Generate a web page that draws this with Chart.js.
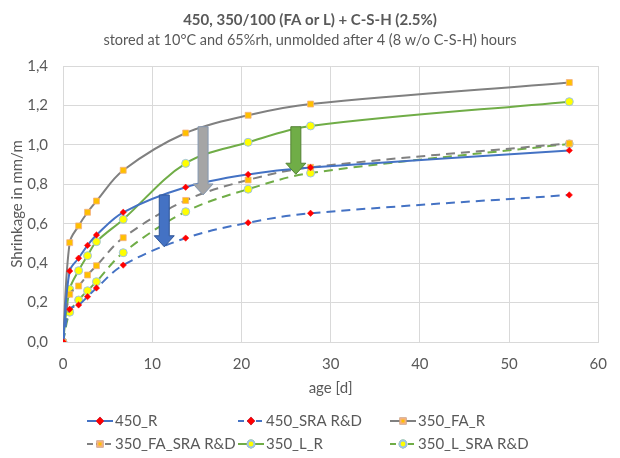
<!DOCTYPE html>
<html>
<head>
<meta charset="utf-8">
<script src="https://cdn.jsdelivr.net/npm/chart.js@4/dist/chart.umd.min.js"></script>
<style>
  html, body { margin: 0; padding: 0; background: #fff; }
  #wrap { width: 620px; height: 458px; }
</style>
</head>
<body>
<div id="wrap"><canvas id="chart" width="620" height="458"></canvas></div>
<script>
// ─────────────────────────────────────────────────────
// Data
// ─────────────────────────────────────────────────────

const TITLE    = "450, 350/100 (FA or L) + C-S-H (2.5%)";
const SUBTITLE = "stored at 10°C and 65%rh, unmolded after 4 (8 w/o C-S-H) hours";
const X_TITLE  = "age [d]";
const Y_TITLE  = "Shrinkage in mm/m";

const ages = [0, 0.75, 1.75, 2.75, 3.75, 6.75, 13.75, 20.75, 27.75, 56.75];

const s450_R      = [0, 0.360, 0.425, 0.490, 0.543, 0.658, 0.785, 0.850, 0.885, 0.972];
const s450_SRA    = [0, 0.166, 0.188, 0.230, 0.274, 0.390, 0.527, 0.605, 0.653, 0.746];
const s350_FA_R   = [0, 0.504, 0.589, 0.658, 0.715, 0.871, 1.060, 1.150, 1.207, 1.316];
const s350_FA_SRA = [0, 0.242, 0.284, 0.340, 0.387, 0.529, 0.718, 0.822, 0.886, 1.008];
const s350_L_R    = [0, 0.267, 0.362, 0.438, 0.509, 0.622, 0.906, 1.013, 1.096, 1.219];
const s350_L_SRA  = [0, 0.151, 0.213, 0.260, 0.306, 0.453, 0.661, 0.775, 0.857, 1.005];

const seriesNames = ["450_R", "450_SRA R&D", "350_FA_R", "350_FA_SRA R&D", "350_L_R", "350_L_SRA R&D"];

const xTicks = [0, 10, 20, 30, 40, 50, 60];
const yTicks = [0, 0.2, 0.4, 0.6, 0.8, 1.0, 1.2, 1.4];

// annotation arrows (age, top value, tip value)
const arrowAge  = [15.7, 11.35, 26.1];
const arrowTop  = [1.092, 0.746, 1.092];
const arrowTip  = [0.746, 0.483, 0.851];

// ─────────────────────────────────────────────────────
// Styles
// ─────────────────────────────────────────────────────

const FONT = "Lato, 'Open Sans', sans-serif";
const TEXT = "#595959";
const GRID = "#d9d9d9";

const BLUE  = "#4472c4";
const GRAY  = "#808080";
const GREEN = "#70ad47";

const arrowFill   = ["#a5a5a5", "#4472c4", "#70ad47"];
const arrowStroke = ["#8497b0", "#2f5597", "#548235"];

const DASH = [9, 6];

function pts(ys) {
  return ages.map((x, i) => ({ x, y: ys[i] }));
}

function series(label, ys, color, dashed, marker) {
  const m = {
    diamond: { pointStyle: "rectRot", pointRadius: 3.2, pointBackgroundColor: "#ff0000", pointBorderColor: "#ff0000", pointBorderWidth: 0.5 },
    square:  { pointStyle: "rect",    pointRadius: 4.2, pointBackgroundColor: "#ffc000", pointBorderColor: "#f4b183", pointBorderWidth: 0.8 },
    circle:  { pointStyle: "circle",  pointRadius: 4,   pointBackgroundColor: "#ffff00", pointBorderColor: "#9dc3e6", pointBorderWidth: 1 },
  }[marker];
  return {
    label,
    data: pts(ys),
    showLine: true,
    borderColor: color,
    backgroundColor: color,
    borderWidth: 2,
    borderDash: dashed ? DASH : [],
    tension: 0.35,
    ...m,
    pointHoverRadius: m.pointRadius,
  };
}

const datasets = [
  series(seriesNames[0], s450_R,      BLUE,  false, "diamond"),
  series(seriesNames[1], s450_SRA,    BLUE,  true,  "diamond"),
  series(seriesNames[2], s350_FA_R,   GRAY,  false, "square"),
  series(seriesNames[3], s350_FA_SRA, GRAY,  true,  "square"),
  series(seriesNames[4], s350_L_R,    GREEN, false, "circle"),
  series(seriesNames[5], s350_L_SRA,  GREEN, true,  "circle"),
];

// ─────────────────────────────────────────────────────
// Plugins: titles, arrows, legend
// ─────────────────────────────────────────────────────

const textPlugin = {
  id: "texts",
  afterDraw(chart) {
    const ctx = chart.ctx;
    const a = chart.chartArea;
    ctx.save();
    ctx.fillStyle = TEXT;
    ctx.textAlign = "center";
    ctx.textBaseline = "middle";
    ctx.font = "bold 15px " + FONT;
    ctx.fillText(TITLE, chart.width / 2, 20);
    ctx.font = "14.5px " + FONT;
    ctx.fillText(SUBTITLE, chart.width / 2, 40);

    ctx.font = "15px " + FONT;
    ctx.fillText(X_TITLE, (a.left + a.right) / 2, 388);

    ctx.translate(17, (a.top + a.bottom) / 2);
    ctx.rotate(-Math.PI / 2);
    ctx.fillText(Y_TITLE, 0, 0);
    ctx.restore();
  },
};

const arrowPlugin = {
  id: "arrows",
  afterDatasetsDraw(chart) {
    const ctx = chart.ctx;
    const xs = chart.scales.x, ys = chart.scales.y;
    ctx.save();
    arrowAge.forEach((age, i) => {
      const cx = xs.getPixelForValue(age);
      const top = ys.getPixelForValue(arrowTop[i]);
      const tip = ys.getPixelForValue(arrowTip[i]);
      const shaft = 5, head = 10, headLen = 11;
      ctx.beginPath();
      ctx.moveTo(cx - shaft, top);
      ctx.lineTo(cx + shaft, top);
      ctx.lineTo(cx + shaft, tip - headLen);
      ctx.lineTo(cx + head, tip - headLen);
      ctx.lineTo(cx, tip);
      ctx.lineTo(cx - head, tip - headLen);
      ctx.lineTo(cx - shaft, tip - headLen);
      ctx.closePath();
      ctx.fillStyle = arrowFill[i];
      ctx.fill();
      ctx.lineWidth = 1;
      ctx.strokeStyle = arrowStroke[i];
      ctx.stroke();
    });
    ctx.restore();
  },
};

const legendCols = [87, 238, 390];
const legendRows = [421, 444];

const legendPlugin = {
  id: "gridLegend",
  afterDraw(chart) {
    const ctx = chart.ctx;
    ctx.save();
    ctx.font = "15px " + FONT;
    ctx.textBaseline = "middle";
    ctx.textAlign = "left";
    chart.data.datasets.forEach((ds, i) => {
      const x = legendCols[i % 3];
      const y = legendRows[Math.floor(i / 3)];
      ctx.beginPath();
      ctx.setLineDash(ds.borderDash.length ? [6, 3] : []);
      ctx.strokeStyle = ds.borderColor;
      ctx.lineWidth = 2;
      ctx.moveTo(x, y);
      ctx.lineTo(x + 26, y);
      ctx.stroke();
      ctx.setLineDash([]);
      Chart.helpers.drawPoint(ctx, {
        pointStyle: ds.pointStyle,
        radius: ds.pointRadius * 0.85,
        borderWidth: ds.pointBorderWidth,
        rotation: 0,
      }, x + 13, y);
      ctx.fillStyle = ds.pointBackgroundColor;
      ctx.strokeStyle = ds.pointBorderColor;
      ctx.fill();
      ctx.stroke();
      ctx.fillStyle = TEXT;
      ctx.fillText(ds.label, x + 28, y);
    });
    ctx.restore();
  },
};

// ─────────────────────────────────────────────────────
// Chart
// ─────────────────────────────────────────────────────

const fmtComma = v => v.toFixed(1).replace(".", ",");

new Chart(document.getElementById("chart"), {
  type: "scatter",
  data: { datasets },
  plugins: [arrowPlugin, textPlugin, legendPlugin],
  options: {
    responsive: false,
    animation: false,
    devicePixelRatio: 1,
    layout: { padding: { left: 0, right: 9, top: 66, bottom: 86 } },
    plugins: {
      legend: { display: false },
      title: { display: false },
      tooltip: { enabled: false },
    },
    scales: {
      x: {
        type: "linear",
        min: 0, max: 60,
        afterFit: s => { s.height = 30; },
        afterBuildTicks: s => { s.ticks = xTicks.map(v => ({ value: v })); },
        grid: { color: GRID, lineWidth: 1, drawTicks: false },
        border: { color: GRID },
        ticks: { color: TEXT, font: { family: FONT, size: 15 }, padding: 13 },
      },
      y: {
        type: "linear",
        min: 0, max: 1.4,
        afterFit: s => { s.width = 63; },
        afterBuildTicks: s => { s.ticks = yTicks.map(v => ({ value: v })); },
        grid: { color: GRID, lineWidth: 1, drawTicks: false },
        border: { color: GRID },
        ticks: {
          color: TEXT, font: { family: FONT, size: 15 }, padding: 15,
          callback: v => fmtComma(v),
        },
      },
    },
  },
});
</script>
</body>
</html>
